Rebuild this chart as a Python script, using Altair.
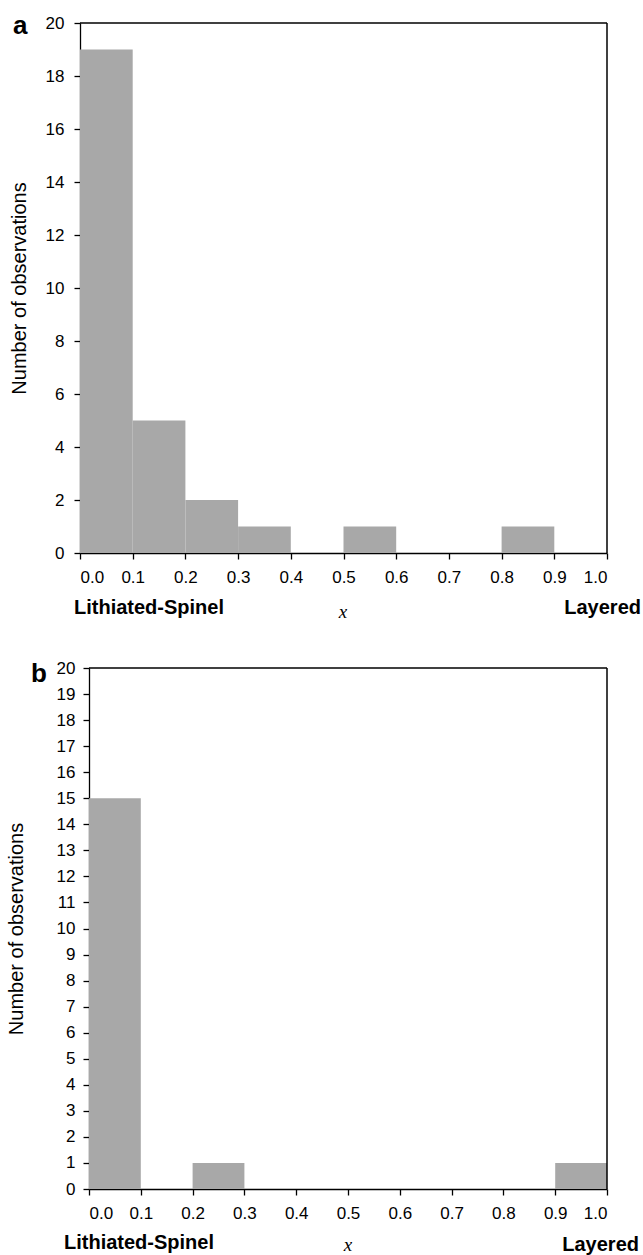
import altair as alt
import pandas as pd

# ---- data ----
bin_start = [0.0, 0.1, 0.2, 0.3, 0.4, 0.5, 0.6, 0.7, 0.8, 0.9]
bin_end = [0.1, 0.2, 0.3, 0.4, 0.5, 0.6, 0.7, 0.8, 0.9, 1.0]
counts_a = [19, 5, 2, 1, 0, 1, 0, 0, 1, 0]
counts_b = [15, 0, 1, 0, 0, 0, 0, 0, 0, 1]
x_ticks = [0.0, 0.1, 0.2, 0.3, 0.4, 0.5, 0.6, 0.7, 0.8, 0.9, 1.0]
y_ticks_a = [0, 2, 4, 6, 8, 10, 12, 14, 16, 18, 20]
y_ticks_b = list(range(0, 21))
panel_letters = ["a", "b"]
left_label = ["Lithiated-Spinel"]
right_label = ["Layered"]
x_label = ["x"]
y_title = "Number of observations"

BAR = "#a8a8a8"
SANS = "Liberation Sans"
SERIF = "Liberation Serif"
W = 527  # common group width


def label(text, x, y, size, weight="normal", style="normal", font=SANS, align="left"):
    df = pd.DataFrame({"t": [text]})
    return alt.Chart(df).mark_text(
        font=font, fontSize=size, fontWeight=weight, fontStyle=style,
        align=align, baseline="alphabetic", color="black"
    ).encode(text="t:N", x=alt.value(x), y=alt.value(y))


def anchor(x, y):
    df = pd.DataFrame({"t": [0]})
    return alt.Chart(df).mark_point(opacity=0, size=1).encode(
        x=alt.value(x), y=alt.value(y))


def frame(x0, h):
    df = pd.DataFrame({"t": [0]})
    top = alt.Chart(df).mark_rule(color="black", strokeWidth=1.5).encode(
        x=alt.value(x0), x2=alt.value(W), y=alt.value(0))
    right = alt.Chart(df).mark_rule(color="black", strokeWidth=1.5).encode(
        x=alt.value(W), y=alt.value(0), y2=alt.value(h))
    return [top, right]


def panel(counts, yticks, letter, x0, h, lab_pad, title_pad, pos):
    df = pd.DataFrame({"start": bin_start, "end": bin_end, "count": counts})
    df = df[df["count"] > 0]
    bars = alt.Chart(df).mark_rect(color=BAR).encode(
        x=alt.X("start:Q",
                scale=alt.Scale(domain=[0, 1], nice=False, zero=False, range=[x0, W]),
                axis=alt.Axis(values=x_ticks, format=".1f", title=None,
                              labelPadding=10)),
        x2="end:Q",
        y=alt.Y("count:Q",
                scale=alt.Scale(domain=[0, 20], nice=False),
                axis=alt.Axis(values=yticks, format="d", title=y_title, offset=-x0,
                              labelPadding=lab_pad, titlePadding=title_pad)),
        y2=alt.datum(0),
    )
    layers = [
        bars,
        *frame(x0, h),
        label(letter, pos["letter"][0], pos["letter"][1], 26, weight="bold"),
        label(left_label[0], pos["left"][0], pos["left"][1], 20, weight="bold"),
        label(right_label[0], pos["right"][0], pos["right"][1], 20, weight="bold", align="right"),
        label(x_label[0], pos["x"][0], pos["x"][1], 19, style="italic", font=SERIF, align="center"),
        anchor(-79, -22),
        anchor(0, pos["anchor_b"]),
    ]
    return alt.layer(*layers).properties(
        width=W, height=h, view=alt.ViewBackground(stroke="transparent"))


# panel a: plot origin x = 79 ; panel b: plot starts 9 px further right
pa = panel(counts_a, y_ticks_a, panel_letters[0], 0, 530, 10, 16, {
    "letter": (-67, 11), "left": (-6, 591), "right": (561, 591), "x": (263, 595),
    "anchor_b": 621,
})
pb = panel(counts_b, y_ticks_b, panel_letters[1], 9, 521, 8, 30, {
    "letter": (-49, 14), "left": (-16, 581), "right": (559, 583), "x": (268, 583),
    "anchor_b": 500,
})

chart = alt.ConcatChart(concat=[pa, pb], columns=1, spacing=0,
                        bounds="full").properties(
    padding={"left": 0, "top": 0, "right": 0, "bottom": 0},
    background="white",
).configure_axis(
    grid=False,
    domainColor="black", domainWidth=1.3,
    tickColor="black", tickSize=6, tickWidth=1.3,
    labelFont=SANS, labelFontSize=17, labelColor="black",
    titleFont=SANS, titleFontSize=20, titleFontWeight="normal", titleColor="black",
)

chart.save("out.html", embed_options={"renderer": "svg", "actions": False})
